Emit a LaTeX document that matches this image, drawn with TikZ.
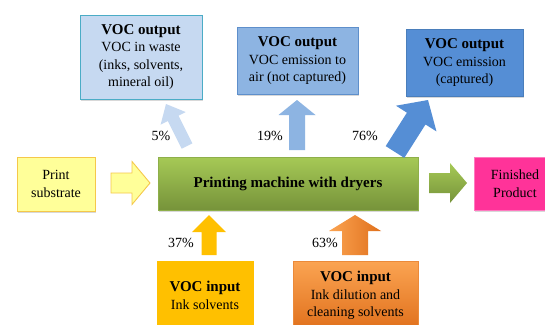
\documentclass[tikz,border=0pt]{standalone}
\usepackage{fontspec}
\setmainfont{Liberation Serif}
\usetikzlibrary{calc,shadows}
\definecolor{bla}{HTML}{C6D9F1}
\definecolor{blad}{HTML}{4BACC6}
\definecolor{blb}{HTML}{8DB4E2}
\definecolor{blbd}{HTML}{5E8FCB}
\definecolor{blc}{HTML}{558ED5}
\definecolor{blcd}{HTML}{4A7EBB}
\definecolor{ylw}{HTML}{FFFF99}
\definecolor{ylwd}{HTML}{F5C84A}
\definecolor{gold}{HTML}{FFC000}
\definecolor{grt}{HTML}{A6C956}
\definecolor{grb}{HTML}{76933A}
\definecolor{grd}{HTML}{8EAF4A}
\definecolor{pink}{HTML}{FF3399}
\definecolor{pinkd}{HTML}{FF7AC0}
\definecolor{ort}{HTML}{FBA452}
\definecolor{orb}{HTML}{E0701C}
\definecolor{ord}{HTML}{EB8A3A}
\newcommand\hd[1]{{\fontsize{15}{17.5}\selectfont\bfseries #1}}
\newcommand\barrow[6]{%
  \coordinate (ab) at ($(#3)!#6!(#2)$);
  \path[#1] ($(#2)!#4!90:(#3)$) -- ($(ab)!#4!90:(#3)$) -- ($(ab)!#5!90:(#3)$) -- (#3) -- ($(ab)!#5!-90:(#3)$) -- ($(ab)!#4!-90:(#3)$) -- ($(#2)!#4!-90:(#3)$) -- cycle;}
\begin{document}
\begin{tikzpicture}[x=1pt,y=-1pt,
  box/.style={draw, line width=0.9pt, align=center, inner sep=1pt,
    font=\fontsize{14}{17.5}\selectfont,
    drop shadow={shadow xshift=1.2pt, shadow yshift=-1.5pt, opacity=0.3}},
  pct/.style={font=\fontsize{14}{16}\selectfont, inner sep=0pt}]
\useasboundingbox (0,0) rectangle (545,324);
\clip (0,0) rectangle (545,324);
\fill[white] (0,0) rectangle (545,324);
% output boxes
\node[box, fill=bla, draw=blad, minimum width=122pt, minimum height=84pt] (waste) at (141,57)
  {\hd{VOC output}\\VOC in waste\\(inks, solvents,\\mineral oil)};
\node[box, fill=blb, draw=blbd, minimum width=121pt, minimum height=67pt] (air) at (297.5,61)
  {\hd{VOC output}\\VOC emission to\\air (not captured)};
\node[box, fill=blc, draw=blcd, minimum width=117pt, minimum height=67pt] (capt) at (464.5,63)
  {\hd{VOC output}\\VOC emission\\(captured)};
% middle row
\node[box, fill=ylw, draw=ylwd, minimum width=78pt, minimum height=54pt] (subs) at (56,184)
  {Print\\substrate};
\node[box, top color=grt, bottom color=grb, draw=grd, minimum width=260pt, minimum height=53pt] (main) at (288,183.5)
  {\fontsize{15}{17.5}\selectfont\bfseries Printing machine with dryers};
\node[box, fill=pink, draw=pinkd, minimum width=82pt, minimum height=53pt] (fin) at (515,183.5)
  {Finished\\Product};
% input boxes
\node[box, fill=gold, draw=gold, minimum width=96pt, minimum height=69pt] (ink) at (205,295.5)
  {\hd{VOC input}\\Ink solvents};
\node[box, top color=ort, bottom color=orb, draw=ord, minimum width=125pt, minimum height=69pt] (dil) at (355.5,295.5)
  {\hd{VOC input}\\Ink dilution and\\cleaning solvents};
% arrow end points
\coordinate (a1t) at (187,146); \coordinate (a1h) at (166,104);
\coordinate (a2t) at (297,150); \coordinate (a2h) at (297,100);
\coordinate (a3t) at (395,152); \coordinate (a3h) at (428,100);
\coordinate (a4t) at (111,183); \coordinate (a4h) at (150,183);
\coordinate (a5t) at (429,183); \coordinate (a5h) at (467,183);
\coordinate (a6t) at (209,255); \coordinate (a6h) at (209,215);
\coordinate (a7t) at (355,255); \coordinate (a7h) at (355,215);
\barrow{fill=bla}{a1t}{a1h}{6pt}{14pt}{16pt}
\barrow{fill=blb}{a2t}{a2h}{8pt}{18.5pt}{15pt}
\barrow{fill=blc}{a3t}{a3h}{11pt}{24pt}{22pt}
\barrow{fill=ylw, draw=ylwd, line width=0.9pt}{a4t}{a4h}{10pt}{21.5pt}{18pt}
\barrow{top color=grt, bottom color=grb}{a5t}{a5h}{10pt}{20pt}{17pt}
\barrow{fill=gold}{a6t}{a6h}{7.5pt}{17pt}{17pt}
\barrow{left color=ort, right color=orb}{a7t}{a7h}{13pt}{26pt}{16pt}
% percentages
\node[pct] (p5) at (161,136) {5\%};
\node[pct] (p19) at (270,136) {19\%};
\node[pct] (p76) at (365,136) {76\%};
\node[pct] (p37) at (181,243) {37\%};
\node[pct] (p63) at (325,243) {63\%};
\end{tikzpicture}
\end{document}
